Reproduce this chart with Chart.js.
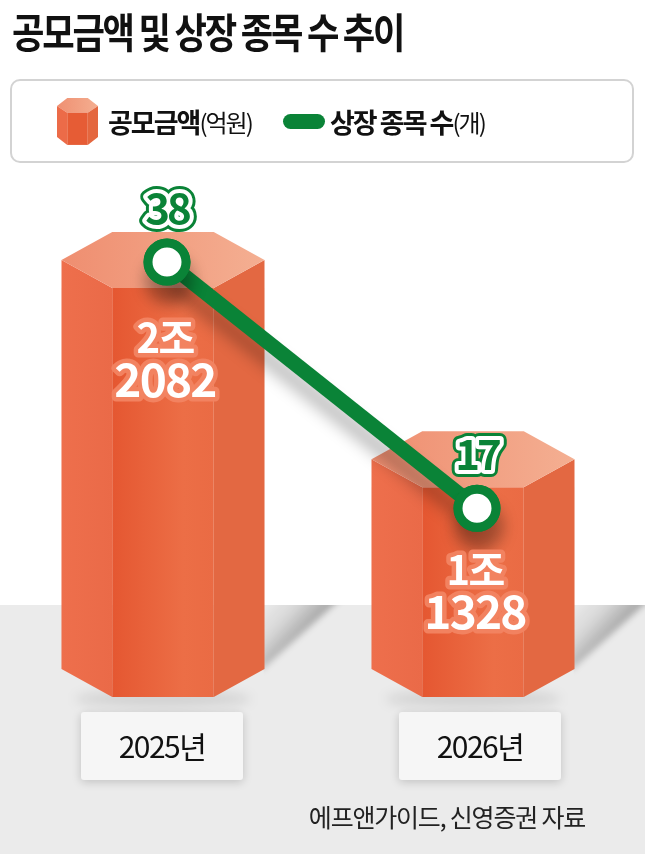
<!DOCTYPE html>
<html>
<head>
<meta charset="utf-8">
<script src="https://cdn.jsdelivr.net/npm/chart.js@4/dist/chart.umd.min.js"></script>
<style>
  html, body { margin: 0; padding: 0; background: #fff; }
  #wrap { position: relative; width: 645px; height: 854px; overflow: hidden; font-family: "Noto Sans CJK KR", "Noto Sans", sans-serif; }
  #floor { position: absolute; left: 0; top: 605px; width: 645px; height: 249px; background: #ebebeb; }
  #chart { position: absolute; left: 0; top: 0; }
  #title { position: absolute; left: 12px; top: 4px; font-size: 41px; font-weight: 700; color: #111; letter-spacing: -2.6px; white-space: nowrap; transform: scaleX(0.86); transform-origin: left top; line-height: 52px; }
  #legend { position: absolute; left: 10px; top: 79px; width: 624px; height: 84px; box-sizing: border-box; border: 2px solid #d3d3d3; border-radius: 10px; background: #fff; }
  .lg { position: absolute; top: 0; height: 80px; display: flex; align-items: center; white-space: nowrap; color: #111; }
  .lg b { font-size: 27px; font-weight: 700; letter-spacing: -2px; }
  .lg span { font-size: 24px; font-weight: 400; letter-spacing: -2px; }
  #lg1 { left: 45px; }
  #lg2 { left: 271px; }
  .pill { display: inline-block; width: 42px; height: 15px; border-radius: 8px; background: #0a8337; margin-right: 5px; }
  #source { position: absolute; right: 60px; top: 798px; font-size: 25px; color: #222; letter-spacing: -1.2px; white-space: nowrap; }
</style>
</head>
<body>
<div id="wrap">
  <div id="floor"></div>
  <canvas id="chart" width="645" height="854"></canvas>
  <div id="title">공모금액 및 상장 종목 수 추이</div>
  <div id="legend">
    <div class="lg" id="lg1">
      <svg width="41" height="47" viewBox="0 0 42 48" style="margin-right:10px">
        <defs>
          <linearGradient id="tg" x1="0" x2="1" y1="0" y2="0">
            <stop offset="0" stop-color="#ef9072"/><stop offset="1" stop-color="#f4ae90"/>
          </linearGradient>
        </defs>
        <polygon points="0,8 10.5,0 31.5,0 42,8 31.5,15 10.5,15" fill="url(#tg)"/>
        <polygon points="0,8 10.5,15 10.5,48 0,40" fill="#ec6b48"/>
        <polygon points="10.5,15 31.5,15 31.5,48 10.5,48" fill="#e65c35"/>
        <polygon points="31.5,15 42,8 42,40 31.5,48" fill="#e4673f"/>
      </svg>
      <b>공모금액</b><span>(억원)</span>
    </div>
    <div class="lg" id="lg2">
      <i class="pill"></i><b>상장 종목 수</b><span>(개)</span>
    </div>
  </div>
  <div id="source">에프앤가이드, 신영증권 자료</div>
</div>
<script>
// ---- data ----
const categories = ['2025년', '2026년'];
const offeringAmounts = [22082, 11328];   // 공모금액 (억원)
const listingCounts = [38, 17];           // 상장 종목 수 (개)

const GREEN = '#0a8337';
const FONT = '"Noto Sans CJK KR", "Noto Sans", sans-serif';

function amountText(v) {
  return [Math.floor(v / 10000) + '조', String(v % 10000)];
}

const prismPlugin = {
  id: 'prism',
  beforeDatasetsDraw(chart, args, opts) {
    const ctx = chart.ctx;
    const meta = chart.getDatasetMeta(1);
    const area = chart.chartArea;
    const floorTop = area.bottom - 64;
    meta.data.forEach((bar) => {
      const cx = bar.x + opts.dx;
      const W = bar.width;
      const q = W / 4;
      const d = 28;
      const yT = bar.y;
      const yB = bar.base;
      // floor shadow (diagonal, cast up-right on the floor)
      ctx.save();
      const sx = cx + W / 2;
      const span = (yB - floorTop) * 1.1;
      ctx.beginPath();
      ctx.rect(sx - 1, floorTop, 200, 200);
      ctx.clip();
      ctx.filter = 'blur(3px)';
      const g0 = ctx.createLinearGradient(sx, floorTop, sx + span / 2, floorTop + (yB - floorTop) / 2);
      g0.addColorStop(0, 'rgba(0,0,0,0.0)');
      g0.addColorStop(0.5, 'rgba(0,0,0,0.08)');
      g0.addColorStop(1, 'rgba(0,0,0,0.28)');
      ctx.fillStyle = g0;
      ctx.beginPath();
      ctx.moveTo(sx - 4, yB + 2);
      ctx.lineTo(sx - 4, floorTop - 10);
      ctx.lineTo(sx + span + 10, floorTop - 10);
      ctx.closePath();
      ctx.fill();
      ctx.restore();
      // soft shadow under base
      ctx.save();
      ctx.filter = 'blur(6px)';
      ctx.fillStyle = 'rgba(0,0,0,0.10)';
      ctx.beginPath();
      ctx.ellipse(cx, yB + d + 2, W / 2 - 14, 9, 0, 0, Math.PI * 2);
      ctx.fill();
      ctx.restore();

      ctx.save();
      // left face
      let g = ctx.createLinearGradient(cx - W / 2, 0, cx - q, 0);
      g.addColorStop(0, '#ee6f4c'); g.addColorStop(1, '#ea6a48');
      ctx.fillStyle = g;
      ctx.beginPath();
      ctx.moveTo(cx - W / 2, yT); ctx.lineTo(cx - q, yT + d);
      ctx.lineTo(cx - q, yB + d); ctx.lineTo(cx - W / 2, yB);
      ctx.closePath(); ctx.fill();
      // front face
      g = ctx.createLinearGradient(cx - q, 0, cx + q, 0);
      g.addColorStop(0, '#e55731'); g.addColorStop(0.7, '#ec6e46'); g.addColorStop(1, '#ea6b44');
      ctx.fillStyle = g;
      ctx.beginPath();
      ctx.moveTo(cx - q, yT + d); ctx.lineTo(cx + q, yT + d);
      ctx.lineTo(cx + q, yB + d); ctx.lineTo(cx - q, yB + d);
      ctx.closePath(); ctx.fill();
      // right face
      ctx.fillStyle = '#e36842';
      ctx.beginPath();
      ctx.moveTo(cx + q, yT + d); ctx.lineTo(cx + W / 2, yT);
      ctx.lineTo(cx + W / 2, yB); ctx.lineTo(cx + q, yB + d);
      ctx.closePath(); ctx.fill();
      // top face
      g = ctx.createLinearGradient(cx - W / 2, 0, cx + W / 2, 0);
      g.addColorStop(0, '#ef8e70'); g.addColorStop(1, '#f4af92');
      ctx.fillStyle = g;
      ctx.beginPath();
      ctx.moveTo(cx - W / 2, yT); ctx.lineTo(cx - q, yT - d);
      ctx.lineTo(cx + q, yT - d); ctx.lineTo(cx + W / 2, yT);
      ctx.lineTo(cx + q, yT + d); ctx.lineTo(cx - q, yT + d);
      ctx.closePath(); ctx.fill();
      ctx.restore();
    });

    // category label boxes
    const xs = chart.scales.x;
    categories.forEach((c, i) => {
      const x = xs.getPixelForValue(i) + opts.boxDx[i];
      const top = area.bottom + 43;
      ctx.save();
      ctx.shadowColor = 'rgba(0,0,0,0.18)';
      ctx.shadowBlur = 10;
      ctx.shadowOffsetY = 2;
      ctx.fillStyle = '#f6f6f6';
      ctx.beginPath();
      ctx.roundRect(x - 81, top, 162, 68, 3);
      ctx.fill();
      ctx.restore();
      ctx.save();
      ctx.font = '400 30px ' + FONT;
      ctx.letterSpacing = '-1.5px';
      ctx.fillStyle = '#111';
      ctx.textAlign = 'center';
      ctx.textBaseline = 'middle';
      ctx.fillText(c, x, top + 35);
      ctx.restore();
    });
  },
  beforeDatasetDraw(chart, args) {
    if (args.index === 0) {
      const ctx = chart.ctx;
      ctx.save();
      ctx.shadowColor = 'rgba(0,0,0,0.28)';
      ctx.shadowBlur = 16;
      ctx.shadowOffsetX = 2;
      ctx.shadowOffsetY = 18;
    }
  },
  afterDatasetDraw(chart, args) {
    if (args.index === 0) {
      const ctx = chart.ctx;
      ctx.restore();
      // redraw points crisply without shadow
      chart.getDatasetMeta(0).data.forEach((p) => p.draw(ctx, chart.chartArea));
    }
  },
  afterDatasetsDraw(chart, args, opts) {
    const ctx = chart.ctx;
    // amount labels inside prisms
    const bm = chart.getDatasetMeta(1);
    bm.data.forEach((bar, i) => {
      const cx = bar.x + opts.labelDx;
      const lines = amountText(offeringAmounts[i]);
      const y1 = bar.y + opts.labelDy[i];
      ctx.save();
      ctx.textAlign = 'center';
      ctx.textBaseline = 'alphabetic';
      ctx.lineJoin = 'round';
      ctx.letterSpacing = '-1.8px';
      const draw = (t, y, size) => {
        ctx.font = '700 ' + size + 'px ' + FONT;
        ctx.strokeStyle = 'rgba(242,132,98,0.95)';
        ctx.lineWidth = 9;
        ctx.strokeText(t, cx, y);
        ctx.fillStyle = '#fff';
        ctx.fillText(t, cx, y);
      };
      draw(lines[0], y1, 40);
      draw(lines[1], y1 + 44, 46);
      ctx.restore();
    });
    // count labels above points
    const lm = chart.getDatasetMeta(0);
    lm.data.forEach((pt, i) => {
      ctx.save();
      ctx.font = '700 42px ' + FONT;
      ctx.letterSpacing = '-3px';
      ctx.textAlign = 'center';
      ctx.textBaseline = 'alphabetic';
      ctx.lineJoin = 'round';
      const t = String(listingCounts[i]);
      const x = pt.x;
      const y = pt.y - 38;
      ctx.strokeStyle = GREEN; ctx.lineWidth = 14; ctx.strokeText(t, x, y);
      ctx.strokeStyle = '#fff'; ctx.lineWidth = 8; ctx.strokeText(t, x, y);
      ctx.fillStyle = GREEN; ctx.fillText(t, x, y);
      ctx.restore();
    });
  }
};

new Chart(document.getElementById('chart'), {
  type: 'bar',
  data: {
    labels: categories,
    datasets: [
      {
        type: 'line',
        label: '상장 종목 수(개)',
        data: listingCounts,
        yAxisID: 'y2',
        order: 0,
        borderColor: GREEN,
        borderWidth: 15,
        pointRadius: 19,
        pointHoverRadius: 19,
        pointBorderWidth: 9,
        pointBackgroundColor: '#fff',
        pointBorderColor: GREEN,
        tension: 0,
        clip: false
      },
      {
        type: 'bar',
        label: '공모금액(억원)',
        data: offeringAmounts,
        yAxisID: 'y',
        order: 1,
        backgroundColor: 'rgba(0,0,0,0)',
        borderWidth: 0,
        barPercentage: 0.655,
        categoryPercentage: 1
      }
    ]
  },
  options: {
    responsive: false,
    devicePixelRatio: 1,
    animation: false,
    layout: { autoPadding: false, padding: { left: 12, right: 13, top: 180, bottom: 185 } },
    scales: {
      x: { display: false },
      y: { display: false, min: 0, max: 26400 },
      y2: { display: false, min: 3.3, max: 45 }
    },
    plugins: {
      legend: { display: false },
      tooltip: { enabled: false },
      prism: { dx: -4, labelDx: -2, labelDy: [93, 126], boxDx: [-5, 3] }
    }
  },
  plugins: [prismPlugin]
});
</script>
</body>
</html>
